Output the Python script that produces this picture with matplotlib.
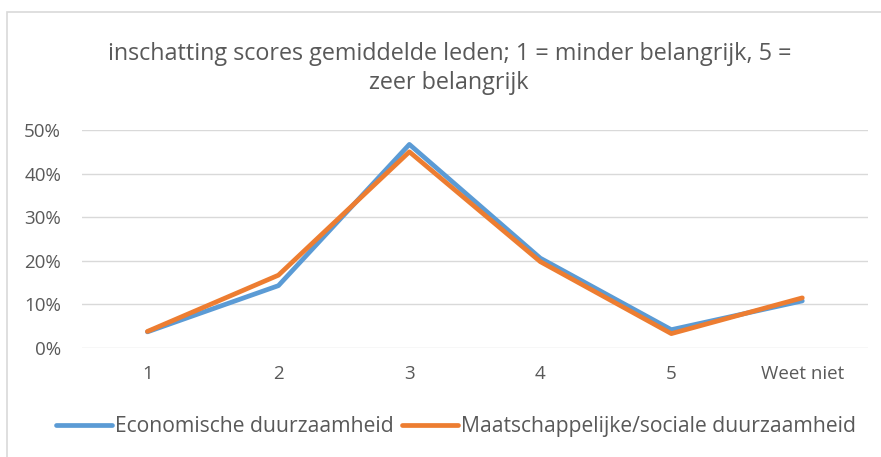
import matplotlib.pyplot as plt
from matplotlib.patches import Rectangle

# categories and values (fractions)
categories = ["1", "2", "3", "4", "5", "Weet niet"]
economisch = [0.037, 0.143, 0.467, 0.206, 0.042, 0.108]
maatschappelijk = [0.038, 0.167, 0.450, 0.198, 0.033, 0.115]
yticks = [0.0, 0.1, 0.2, 0.3, 0.4, 0.5]
ytick_labels = ["0%", "10%", "20%", "30%", "40%", "50%"]

plt.rcParams['font.family'] = ['Open Sans', 'DejaVu Sans']
grey = "#595959"

fig = plt.figure(figsize=(8.81, 4.57), dpi=100)
# chart border (right and bottom edges fall outside the picture)
fig.patches.append(Rectangle((0.008, -0.05), 1.1, 1.023, transform=fig.transFigure,
                             fill=False, edgecolor="#d9d9d9", linewidth=1.2))

ax = fig.add_axes([0.093, 0.2385, 0.892, 0.477])
x = list(range(len(categories)))
ax.plot(x, economisch, color="#5b9bd5", linewidth=3.4, solid_capstyle="round",
        label="Economische duurzaamheid")
ax.plot(x, maatschappelijk, color="#ed7d31", linewidth=3.4, solid_capstyle="round",
        label="Maatschappelijke/sociale duurzaamheid")

ax.set_xlim(-0.5, 5.5)
ax.set_ylim(0, 0.5)
ax.set_xticks(x)
ax.set_xticklabels(categories)
ax.set_yticks(yticks)
ax.set_yticklabels(ytick_labels)
ax.tick_params(length=0, colors=grey, labelsize=13.5)
ax.tick_params(axis="x", pad=12)
ax.tick_params(axis="y", pad=15)
ax.grid(axis="y", color="#d9d9d9", linewidth=1)
ax.set_axisbelow(True)
for s in ax.spines.values():
    s.set_visible(False)

fig.text(0.51, 0.85, "inschatting scores gemiddelde leden; 1 = minder belangrijk, 5 =\nzeer belangrijk",
         ha="center", va="center", fontsize=16.8, color=grey, linespacing=1.25)

fig.legend(loc="center", bbox_to_anchor=(0.518, 0.066), ncol=2, frameon=False,
           fontsize=15.2, labelcolor=grey, handlelength=2.65, handletextpad=0.15,
           columnspacing=0.38)

fig.savefig("out.png", dpi=100)
